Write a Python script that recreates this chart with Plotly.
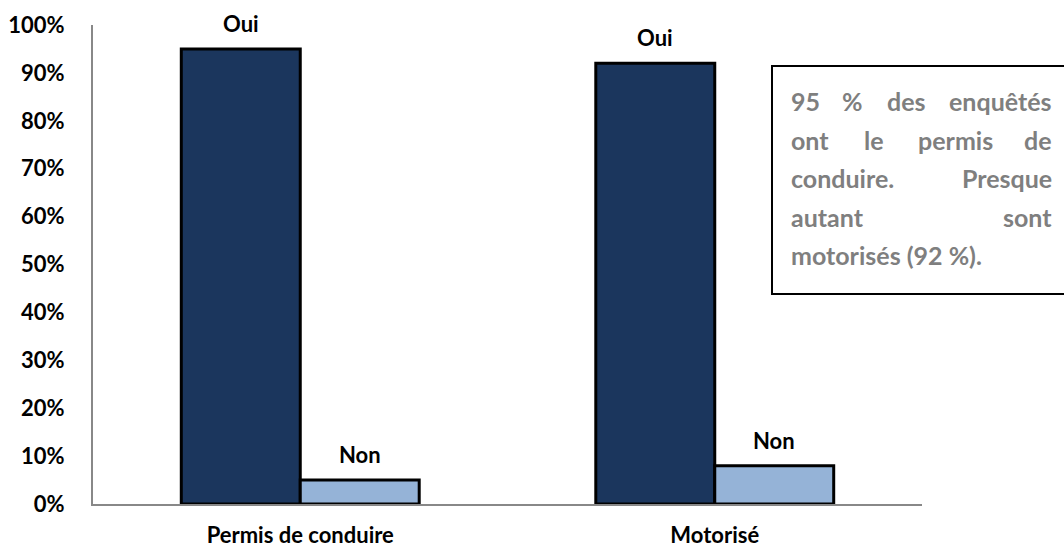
import plotly.graph_objects as go

categories = ["Permis de conduire", "Motorisé"]
oui_values = [0.95, 0.92]
non_values = [0.05, 0.08]
series_names = ["Oui", "Non"]
tick_vals = [i / 10 for i in range(11)]
tick_text = [f"{i*10}%" for i in range(11)]
box_lines = [
    ["95", "%", "des", "enquêtés"],
    ["ont", "le", "permis", "de"],
    ["conduire.", "Presque"],
    ["autant", "sont"],
    ["motorisés (92 %)."],
]

W, H = 1064, 551
L, R, T, B = 93, 922, 25, 504
FONT = "Lato"
dark = "#1B365D"
light = "#95B3D7"

def px(x):
    return (x - L) / (R - L)

def py(y):
    return (B - y) / (B - T)

bw = 0.287
xs = list(range(len(categories)))

fig = go.Figure()
fig.add_trace(go.Bar(x=[i - bw / 2 for i in xs], y=oui_values, width=bw, name=series_names[0],
                     marker=dict(color=dark, line=dict(color="black", width=3))))
fig.add_trace(go.Bar(x=[i + bw / 2 for i in xs], y=non_values, width=bw, name=series_names[1],
                     marker=dict(color=light, line=dict(color="black", width=3))))

lab_font = dict(family=FONT, size=22, color="black")
ann = []
for i in xs:
    ann.append(dict(x=i - bw / 2, y=oui_values[i], text=f"<b>{series_names[0]}</b>", showarrow=False,
                    yanchor="bottom", yshift=10, font=lab_font))
    ann.append(dict(x=i + bw / 2, y=non_values[i], text=f"<b>{series_names[1]}</b>", showarrow=False,
                    yanchor="bottom", yshift=10, font=lab_font))

# text box with justified lines
xl, xr = 789, 1054
line_y = [101, 139.5, 178, 216.5, 255]
mid_centers = {0: [852, 906], 1: [874, 956]}
tf = dict(family=FONT, size=25, color="#7F7F7F")
for li, words in enumerate(box_lines):
    yy = py(line_y[li])
    ann.append(dict(xref="paper", yref="paper", x=px(xl), y=yy, xanchor="left", yanchor="middle",
                    text=f"<b>{words[0]}</b>", showarrow=False, font=tf))
    if len(words) == 1:
        continue
    ann.append(dict(xref="paper", yref="paper", x=px(xr), y=yy, xanchor="right", yanchor="middle",
                    text=f"<b>{words[-1]}</b>", showarrow=False, font=tf))
    for k, w in enumerate(words[1:-1]):
        ann.append(dict(xref="paper", yref="paper", x=px(mid_centers[li][k]), y=yy, xanchor="center",
                        yanchor="middle", text=f"<b>{w}</b>", showarrow=False, font=tf))

fig.add_shape(type="rect", xref="paper", yref="paper", x0=px(772), x1=px(1070), y0=py(294), y1=py(66),
              line=dict(color="black", width=2), fillcolor="white", layer="below")

fig.update_layout(
    width=W, height=H,
    margin=dict(l=L, r=W - R, t=T, b=H - B, pad=0, autoexpand=False),
    plot_bgcolor="white", paper_bgcolor="white",
    showlegend=False, barmode="overlay",
    annotations=ann,
    font=dict(family=FONT, size=22, color="black"),
    xaxis=dict(range=[-0.5, 1.5], tickvals=xs, ticktext=[f"<b>{c}</b>" for c in categories],
               showline=True, linecolor="#888888", linewidth=2, showgrid=False, zeroline=False,
               automargin=False,
               ticks="", ticklabelstandoff=11, tickfont=dict(family=FONT, size=22, color="black")),
    yaxis=dict(range=[0, 1], tickvals=tick_vals, ticktext=[f"<b>{t}</b>" for t in tick_text],
               showline=True, linecolor="#888888", linewidth=2, showgrid=False, zeroline=False,
               automargin=False,
               ticks="", ticklabelstandoff=22, tickfont=dict(family=FONT, size=22, color="black")),
)

fig.write_html("out.html", config={"displayModeBar": False},
               post_script="document.body.style.margin='0';document.body.style.overflow='hidden';")
